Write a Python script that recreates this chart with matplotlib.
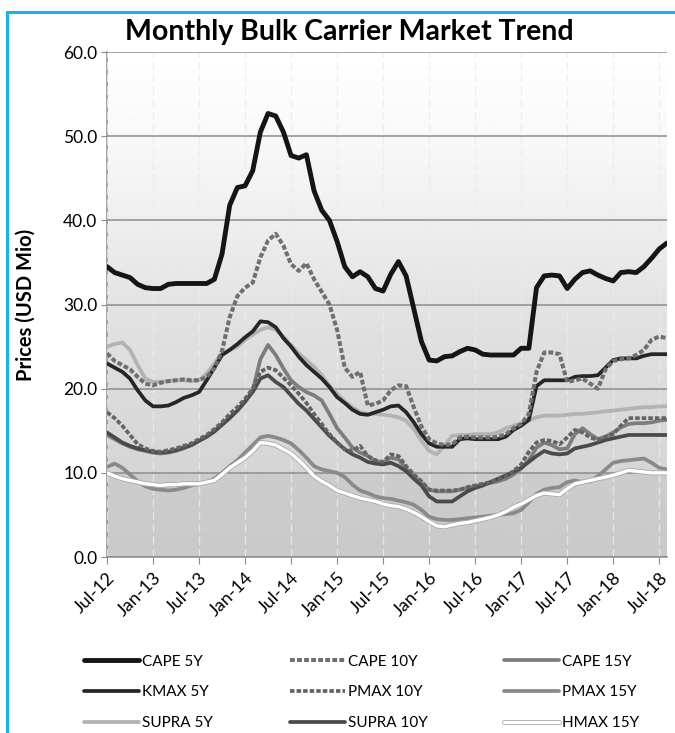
import numpy as np
import matplotlib
matplotlib.use('Agg')
import matplotlib.pyplot as plt
import matplotlib.patheffects as pe
from matplotlib.lines import Line2D

plt.rcParams['font.family'] = ['Lato', 'DejaVu Sans']

# monthly prices, Jul-12 .. Aug-18 (USD Mio)
cape_5y = [34.5, 33.8, 33.5, 33.2, 32.4, 32.0, 31.9, 31.9, 32.4, 32.5, 32.5, 32.5,
           32.5, 32.5, 33.0, 36.0, 41.8, 43.9, 44.1, 45.9, 50.5, 52.7, 52.4, 50.5,
           47.7, 47.4, 47.8, 43.5, 41.2, 40.0, 37.5, 34.5, 33.3, 33.9, 33.3, 31.9,
           31.6, 33.6, 35.1, 33.4, 29.5, 25.6, 23.4, 23.3, 23.8, 23.9, 24.4, 24.8,
           24.6, 24.1, 24.0, 24.0, 24.0, 24.0, 24.8, 24.8, 32.0, 33.4, 33.5, 33.4,
           31.9, 33.0, 33.8, 34.0, 33.5, 33.1, 32.8, 33.8, 33.9, 33.8, 34.5, 35.5,
           36.6, 37.3]
cape_10y = [24.2, 23.3, 22.8, 22.3, 21.4, 20.6, 20.4, 20.7, 20.9, 21.0, 21.1, 21.0,
            21.0, 21.4, 22.4, 24.5, 28.5, 31.0, 32.0, 32.6, 35.6, 37.6, 38.4, 37.0,
            34.8, 34.0, 34.9, 33.0, 31.5, 30.0, 27.0, 22.5, 21.4, 22.0, 18.0, 18.2,
            18.6, 19.8, 20.4, 20.3, 17.8, 15.5, 14.0, 13.5, 13.3, 13.4, 14.2, 14.3,
            14.2, 14.2, 14.2, 14.3, 14.6, 15.3, 15.8, 17.0, 22.0, 24.3, 24.3, 24.1,
            20.8, 21.0, 21.2, 20.6, 20.0, 22.3, 23.3, 23.5, 23.6, 24.0, 24.6, 25.8,
            26.2, 26.0]
cape_15y = [14.5, 14.0, 13.5, 13.1, 12.8, 12.6, 12.4, 12.3, 12.4, 12.6, 12.9, 13.3,
            13.8, 14.3, 15.0, 15.8, 16.6, 17.4, 18.4, 19.8, 23.5, 25.2, 24.0, 22.4,
            21.0, 20.2, 19.6, 19.2, 18.6, 17.0, 15.3, 14.2, 13.0, 12.4, 12.0, 11.4,
            11.2, 11.8, 11.6, 10.5, 9.6, 8.8, 8.0, 7.8, 7.8, 7.8, 8.0, 8.2,
            8.4, 8.6, 8.8, 9.0, 9.3, 9.8, 10.5, 11.5, 13.0, 13.6, 13.3, 12.8,
            12.9, 14.6, 15.3, 14.6, 14.0, 14.3, 14.8, 15.4, 15.8, 15.9, 15.9, 16.0,
            16.2, 16.3]
kmax_5y = [23.0, 22.5, 22.0, 21.2, 19.8, 18.6, 17.9, 17.9, 18.0, 18.4, 18.9, 19.2,
           19.6, 21.0, 22.5, 24.0, 24.6, 25.3, 26.1, 26.8, 28.0, 27.9, 27.3, 26.0,
           25.0, 23.8, 22.8, 22.0, 21.2, 20.2, 19.0, 18.3, 17.5, 17.0, 16.9, 17.2,
           17.5, 17.9, 18.0, 17.2, 16.0, 14.6, 13.5, 13.1, 13.1, 13.1, 14.0, 14.1,
           14.0, 14.0, 14.0, 14.0, 14.3, 15.1, 15.6, 16.3, 20.3, 21.0, 21.0, 21.0,
           21.0, 21.4, 21.5, 21.5, 21.6, 22.5, 23.4, 23.6, 23.6, 23.6, 23.9, 24.1,
           24.1, 24.1]
pmax_10y = [17.2, 16.5, 15.6, 14.5, 13.4, 12.9, 12.6, 12.5, 12.7, 12.9, 13.2, 13.5,
            14.0, 14.5, 15.2, 16.0, 17.0, 17.8, 18.8, 20.0, 22.0, 22.5, 22.2, 21.3,
            20.4, 19.4, 18.3, 17.0, 15.8, 14.6, 13.6, 12.8, 12.6, 13.2, 12.0, 11.5,
            11.3, 12.2, 12.0, 10.8, 9.8, 9.0, 8.0, 7.9, 7.9, 7.9, 8.0, 8.3,
            8.5, 8.7, 8.9, 9.2, 9.6, 10.2, 11.0, 12.5, 13.6, 13.9, 13.8, 13.4,
            14.2, 15.1, 14.8, 14.2, 13.9, 14.3, 14.6, 15.6, 16.5, 16.5, 16.5, 16.5,
            16.5, 16.5]
pmax_15y = [10.7, 11.1, 10.6, 9.8, 9.0, 8.4, 8.1, 8.0, 7.9, 8.0, 8.2, 8.5,
            8.7, 8.9, 9.3, 10.0, 10.8, 11.5, 12.4, 13.3, 14.2, 14.4, 14.2, 13.9,
            13.5, 12.7, 11.8, 10.8, 10.4, 10.2, 10.0, 9.5, 8.6, 7.9, 7.6, 7.2,
            7.0, 6.9, 6.7, 6.5, 6.2, 5.6, 4.8, 4.5, 4.4, 4.4, 4.5, 4.6,
            4.7, 4.8, 4.9, 5.0, 5.1, 5.2, 5.6, 6.5, 7.5, 8.0, 8.2, 8.3,
            8.9, 9.1, 8.9, 9.0, 9.6, 10.4, 11.2, 11.4, 11.5, 11.6, 11.7, 11.2,
            10.6, 10.4]
supra_5y = [25.0, 25.3, 25.5, 24.6, 22.8, 21.2, 20.8, 20.8, 20.9, 21.0, 21.0, 20.9,
            21.0, 21.8, 23.0, 24.2, 24.6, 25.0, 25.8, 26.4, 27.0, 27.3, 27.0, 26.2,
            25.2, 24.2, 23.4, 22.6, 21.6, 20.4, 19.4, 18.5, 17.8, 17.2, 17.0, 17.0,
            16.9, 16.8, 16.6, 16.2, 15.2, 13.8, 12.6, 12.2, 13.2, 14.4, 14.5, 14.5,
            14.6, 14.6, 14.6, 14.8, 15.3, 15.6, 15.9, 16.2, 16.6, 16.8, 16.8, 16.8,
            16.9, 17.0, 17.0, 17.1, 17.2, 17.3, 17.4, 17.5, 17.6, 17.7, 17.8, 17.8,
            17.9, 17.9]
supra_10y = [14.8, 14.2, 13.6, 13.2, 12.9, 12.7, 12.5, 12.4, 12.5, 12.7, 13.0, 13.3,
             13.8, 14.3, 14.9, 15.7, 16.5, 17.4, 18.5, 19.6, 21.2, 21.6, 20.8, 20.2,
             19.2, 18.2, 17.4, 16.4, 15.4, 14.4, 13.6, 12.8, 12.2, 11.8, 11.3, 11.1,
             11.0, 11.2, 10.8, 10.2, 9.3, 8.5, 7.2, 6.6, 6.6, 6.6, 7.2, 7.8,
             8.2, 8.5, 8.9, 9.3, 9.7, 10.1, 10.6, 11.3, 12.0, 12.6, 12.3, 12.2,
             12.3, 12.9, 13.1, 13.3, 13.6, 13.9, 14.1, 14.3, 14.5, 14.5, 14.5, 14.5,
             14.5, 14.5]
hmax_15y = [10.0, 9.6, 9.3, 9.1, 8.9, 8.7, 8.6, 8.5, 8.6, 8.6, 8.7, 8.7,
            8.7, 8.9, 9.1, 9.8, 10.6, 11.2, 11.8, 12.6, 13.6, 13.5, 13.3, 12.8,
            12.3, 11.5, 10.6, 9.6, 9.0, 8.5, 7.9, 7.6, 7.3, 7.0, 6.8, 6.6,
            6.3, 6.1, 6.0, 5.7, 5.3, 4.8, 4.2, 3.7, 3.6, 3.8, 4.0, 4.1,
            4.3, 4.5, 4.7, 5.0, 5.4, 5.9, 6.3, 6.8, 7.3, 7.6, 7.5, 7.4,
            8.1, 8.7, 8.9, 9.1, 9.3, 9.5, 9.7, 10.0, 10.3, 10.2, 10.1, 10.0,
            10.0, 10.0]

tick_labels = ['Jul-12', 'Jan-13', 'Jul-13', 'Jan-14', 'Jul-14', 'Jan-15', 'Jul-15',
               'Jan-16', 'Jul-16', 'Jan-17', 'Jul-17', 'Jan-18', 'Jul-18']

months = np.arange(len(cape_5y))

fig = plt.figure(figsize=(6.75, 7.33), dpi=100)
ax = fig.add_axes([0.1585, 0.2401, 0.8295, 0.6889])

# background gradient of the plot area
stops_v = [0, 9.9, 10.0, 20, 30, 40, 50, 60]
stops_g = [0.79, 0.80, 0.835, 0.86, 0.89, 0.935, 0.975, 1.0]
yy = np.linspace(0, 60, 600)
grad = np.interp(yy, stops_v, stops_g)[:, None]
ax.imshow(grad, extent=[0, 73, 0, 60], origin='lower', aspect='auto',
          cmap='gray', vmin=0, vmax=1, interpolation='bilinear', zorder=0)

# series: values, color, width, dashed
series = {
    'CAPE 5Y': (cape_5y, '#151515', 3.5, False),
    'CAPE 10Y': (cape_10y, '#6f6f6f', 2.9, True),
    'CAPE 15Y': (cape_15y, '#7d7d7d', 2.7, False),
    'KMAX 5Y': (kmax_5y, '#262626', 2.7, False),
    'PMAX 10Y': (pmax_10y, '#636363', 2.7, True),
    'PMAX 15Y': (pmax_15y, '#8a8a8a', 2.7, False),
    'SUPRA 5Y': (supra_5y, '#b3b3b3', 2.7, False),
    'SUPRA 10Y': (supra_10y, '#4a4a4a', 2.7, False),
    'HMAX 15Y': (hmax_15y, '#ffffff', 2.4, False),
}
draw_order = ['SUPRA 5Y', 'CAPE 15Y', 'PMAX 15Y', 'SUPRA 10Y', 'PMAX 10Y',
              'HMAX 15Y', 'KMAX 5Y', 'CAPE 10Y', 'CAPE 5Y']

def style(name):
    vals, color, lw, dashed = series[name]
    kw = dict(color=color, lw=lw, solid_joinstyle='round', solid_capstyle='round')
    if dashed:
        kw['linestyle'] = (0, (1.2, 0.55))
        kw['dash_capstyle'] = 'butt'
    if name == 'HMAX 15Y':
        kw['path_effects'] = [pe.Stroke(linewidth=lw + 1.2, foreground='#a8a8a8'), pe.Normal()]
    return kw

for z, name in enumerate(draw_order):
    ax.plot(months, series[name][0], zorder=3 + z, **style(name))

ax.set_xlim(0, 73)
ax.set_ylim(0, 60)
ax.set_yticks(np.arange(0, 61, 10))
ax.set_yticklabels(['%.1f' % v for v in np.arange(0, 61, 10)], fontsize=12.5)
ax.set_xticks(np.arange(0, 73, 6))
ax.set_xticklabels(tick_labels, rotation=45, ha='right', rotation_mode='anchor', fontsize=13)

ax.grid(axis='y', color='#8c8c8c', lw=1.1, zorder=2)
ax.grid(axis='x', color='#ececec', lw=1.0, ls=(0, (6, 3)), alpha=0.8, zorder=1)
ax.set_axisbelow(False)
for s in ['top', 'right']:
    ax.spines[s].set_visible(False)
for s in ['left', 'bottom']:
    ax.spines[s].set_color('#8c8c8c')
    ax.spines[s].set_linewidth(1.1)
    ax.spines[s].set_zorder(2.5)
ax.tick_params(axis='x', direction='out', length=5, color='#8c8c8c', pad=4)
ax.tick_params(axis='y', direction='out', length=4, color='#8c8c8c', pad=3)

ax.set_ylabel('Prices (USD Mio)', fontsize=14.5, fontweight='bold', labelpad=20)

fig.text(0.518, 1 - 32 / 733, 'Monthly Bulk Carrier Market Trend', ha='center', va='center',
         fontsize=20.5, fontweight='bold')

# legend, column-wise order for a 3x3 grid
leg_order = ['CAPE 5Y', 'KMAX 5Y', 'SUPRA 5Y', 'CAPE 10Y', 'PMAX 10Y', 'SUPRA 10Y',
             'CAPE 15Y', 'PMAX 15Y', 'HMAX 15Y']
handles = [Line2D([], [], **style(n)) for n in leg_order]
fig.legend(handles, leg_order, ncol=3, loc='upper left', bbox_to_anchor=(0.125, 0.107),
           frameon=False, fontsize=11, handlelength=3.6, handletextpad=0.2,
           labelspacing=1.1, columnspacing=5.0, borderpad=0, borderaxespad=0)

# cyan frame lines of the original page
fig.add_artist(Line2D([7 / 675, 1], [1 - 12 / 733, 1 - 12 / 733], color='#19b2ea', lw=2.2))
fig.add_artist(Line2D([7 / 675, 7 / 675], [0, 1 - 12 / 733], color='#19b2ea', lw=2.2))

fig.savefig('out.png', dpi=100)
